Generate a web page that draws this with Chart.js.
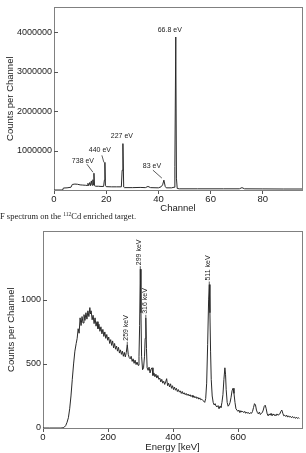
<!DOCTYPE html>
<html><head><meta charset="utf-8">
<script src="https://cdn.jsdelivr.net/npm/chart.js@4.4.0/dist/chart.umd.min.js"></script>
<style>
html,body{margin:0;padding:0;background:#fff;width:306px;height:453px;overflow:hidden;position:relative}
#c1{position:absolute;left:0;top:0;width:306px;height:214px}
#c2{position:absolute;left:0;top:224px;width:306px;height:229px}
#cap{position:absolute;left:0;top:211px;font:8.5px "Liberation Serif",serif;color:#222;white-space:nowrap;line-height:10px}
#cap sup{font-size:5.5px;vertical-align:3px;line-height:0}
</style></head><body>
<canvas id="c1" width="306" height="214"></canvas>
<div id="cap">F spectrum on the <sup>112</sup>Cd enriched target.</div>
<canvas id="c2" width="306" height="229"></canvas>
<script>
// ---------- Top spectrum (channel vs counts) ----------
const channels = [0,3.3,3.6,5,6.5,7,8,9,10,11,
  12,12.7,13,13.3,13.7,14,14.3,14.6,14.9,15.1,
  15.3,15.5,16,17,18,19,19.3,19.5,19.7,20,
  22,24,25.8,26.1,26.4,26.7,27,30,33,35,
  36,37,40,41,41.6,42.1,42.6,43,45,46,
  46.3,46.65,46.9,47.2,48,55,65,71,72,73,
  80,88,95];
const counts = [0,0,50000,55000,70000,140000,150000,145000,130000,125000,
  120000,115000,170000,110000,190000,110000,230000,120000,260000,130000,
  425000,110000,95000,95000,90000,90000,250000,700000,120000,85000,
  80000,80000,80000,500000,1175000,75000,60000,60000,65000,60000,
  90000,60000,55000,80000,130000,250000,90000,55000,55000,70000,
  600000,3875000,300000,40000,30000,30000,30000,30000,60000,30000,
  28000,25000,25000];
const channelTicks = [0,20,40,60,80];
const countTicks = [1000000,2000000,3000000,4000000];
const peakLabelsTop = ['738 eV','440 eV','227 eV','83 eV','66.8 eV'];
const peakChannelsTop = [15.3,19.5,26.4,42.1,46.65];

// ---------- Bottom spectrum (energy vs counts) ----------
const energies = [0,20,40,55,62,66,70,74,78,82,
  86,90,94,98,102,105,108,111,114,117,
  120,123,126,129,132,135,138,141,144,146,
  148,151,154,157,160,163,166,169,172,175,
  178,181,184,187,190,193,196,199,202,205,
  208,211,214,217,220,223,226,229,232,235,
  238,241,244,247,250,253,256,259,262,265,
  268,271,274,277,280,283,286,289,292,295,
  297,299,301,303,306,309,312,314,316,318,
  320,323,326,329,332,335,338,341,344,347,
  350,353,356,359,362,365,368,371,374,377,
  380,383,386,389,392,395,398,401,404,407,
  410,413,416,419,422,425,428,431,434,437,
  440,443,446,449,452,455,458,461,464,467,
  470,473,476,479,482,485,488,491,494,497,
  500,503,506,509,511,513,515,517,520,523,
  526,529,532,535,538,541,544,547,550,553,
  556,559,561,563,566,569,572,575,578,581,
  584,587,590,593,596,599,602,605,608,611,
  614,617,620,623,626,629,632,635,638,641,
  644,647,650,653,656,659,662,665,668,671,
  674,677,680,683,686,689,692,695,698,701,
  704,707,710,713,716,719,722,725,728,731,
  734,737,740,743,746,749,752,755,758,761,
  764,767,770,773,776,779,782,785,788];
const countsE = [0,0,0,0,2,8,20,45,80,150,
  250,380,500,600,660,700,775,740,860,800,
  870,820,885,840,900,850,915,870,940,890,
  915,845,880,815,860,795,830,775,810,755,
  790,735,770,715,750,700,730,685,710,660,
  690,645,680,625,660,615,640,600,630,585,
  610,575,600,560,590,555,590,650,575,550,
  540,560,520,540,505,530,495,515,490,560,
  800,1240,900,560,455,470,560,700,860,620,
  470,450,475,430,460,470,410,430,400,420,
  390,410,380,390,360,380,350,365,340,360,
  385,330,350,320,345,310,330,300,320,295,
  310,285,300,280,290,270,285,265,275,260,
  270,255,265,250,260,245,255,240,250,235,
  245,230,240,225,235,220,225,215,210,200,
  230,350,650,1000,1120,900,600,380,250,200,
  180,190,170,165,175,150,170,160,200,260,
  380,470,420,300,200,170,180,200,240,290,
  310,270,200,150,140,130,140,120,135,125,
  130,120,130,115,125,115,120,110,120,115,
  130,160,190,180,140,120,110,125,105,115,
  120,140,170,178,150,110,95,110,100,115,
  95,110,100,105,95,110,100,105,110,130,
  140,115,95,100,90,100,85,95,85,90,
  80,90,80,85,75,85,75,80,75];
const energyTicks = [0,200,400,600];
const countTicksE = [0,500,1000];
const peakLabelsBottom = ['259 keV','299 keV','316 keV','511 keV'];
const peakEnergiesBottom = [259,299,316,511];

// ---------- styling ----------
const FONT = '"Liberation Sans", Arial, sans-serif';
const TXT = '#222';
const AXIS = '#808080';
// label placement relative to the peak tip (pixels): text offset and leader line
const topLabelLayout = [
  {dx:-11, dy:-12, lead:[-7,-9,-1,-1]},
  {dx:-5,  dy:-12, lead:[-3,-7,-1,0]},
  {dx:-1,  dy:-8,  lead:null},
  {dx:-12, dy:-14, lead:[-11,-10,-2,-2]},
  {dx:-6,  dy:-7,  lead:null}
];

const framePlugin = {
  id:'frame',
  beforeDatasetsDraw(chart){
    const {ctx, chartArea:a} = chart;
    ctx.save();
    ctx.strokeStyle = AXIS; ctx.lineWidth = 1;
    const l = Math.round(a.left)+0.5, t = Math.round(a.top)+0.5;
    ctx.strokeRect(l, t, Math.round(a.right)-Math.round(a.left), Math.round(a.bottom)-Math.round(a.top));
    const ys = chart.scales.y;
    ctx.strokeStyle = '#555';
    ys.ticks.forEach(tk=>{
      if (tk.value === 0) return;
      const py = Math.round(ys.getPixelForValue(tk.value))+0.5;
      ctx.beginPath(); ctx.moveTo(a.left, py); ctx.lineTo(a.left+4, py); ctx.stroke();
    });
    ctx.restore();
  }
};

const topLabelsPlugin = {
  id:'topLabels',
  afterDatasetsDraw(chart){
    const {ctx, scales:{x, y}} = chart;
    ctx.save();
    ctx.font = '7px ' + FONT; ctx.fillStyle = TXT; ctx.strokeStyle = '#333'; ctx.lineWidth = 0.8;
    ctx.textAlign = 'center'; ctx.textBaseline = 'middle';
    peakLabelsTop.forEach((lab, i)=>{
      const c = peakChannelsTop[i];
      const v = counts[channels.indexOf(c)];
      const px = x.getPixelForValue(c), py = y.getPixelForValue(v);
      const st = topLabelLayout[i];
      ctx.fillText(lab, px+st.dx, py+st.dy);
      if (st.lead){
        ctx.beginPath(); ctx.moveTo(px+st.lead[0], py+st.lead[1]); ctx.lineTo(px+st.lead[2], py+st.lead[3]); ctx.stroke();
      }
    });
    ctx.restore();
  }
};

const bottomLabelsPlugin = {
  id:'bottomLabels',
  afterDatasetsDraw(chart){
    const {ctx, scales:{x, y}} = chart;
    ctx.save();
    ctx.font = '7px ' + FONT; ctx.fillStyle = TXT; ctx.strokeStyle = '#333'; ctx.lineWidth = 0.8;
    peakLabelsBottom.forEach((lab, i)=>{
      const e = peakEnergiesBottom[i];
      const v = countsE[energies.indexOf(e)];
      const px = x.getPixelForValue(e), py = y.getPixelForValue(v);
      ctx.save();
      ctx.translate(px, py);
      ctx.rotate(-Math.PI/2);
      ctx.beginPath(); ctx.moveTo(0,0); ctx.lineTo(3,0); ctx.stroke();
      ctx.textAlign = 'left'; ctx.textBaseline = 'middle';
      ctx.fillText(lab, 4, -1);
      ctx.restore();
    });
    ctx.restore();
  }
};

function axisX(title, max, tickVals, height, titleLH){
  return {
    type:'linear', min:0, max:max,
    afterFit(s){ s.height = height; },
    afterBuildTicks(s){ s.ticks = tickVals.map(v=>({value:v})); },
    ticks:{autoSkip:false, padding:0, maxRotation:0, color:TXT, font:{family:FONT, size:9.5}},
    grid:{drawOnChartArea:false, drawTicks:true, tickLength:4, color:'#555'},
    border:{color:AXIS},
    title:{display:true, text:title, color:TXT, font:{family:FONT, size:9.5, lineHeight:titleLH}, padding:{top:0, bottom:0}}
  };
}
function axisY(max, tickVals, width, titlePad){
  return {
    type:'linear', min:0, max:max,
    afterFit(s){ s.width = width; },
    afterBuildTicks(s){ s.ticks = tickVals.map(v=>({value:v})); },
    ticks:{autoSkip:false, padding:2, color:TXT, font:{family:FONT, size:9}, callback:v=>String(v)},
    grid:{drawOnChartArea:false, drawTicks:false},
    border:{color:AXIS},
    title:{display:true, text:'Counts per Channel', color:TXT, font:{family:FONT, size:9.5}, padding:{top:titlePad, bottom:0}}
  };
}

new Chart(document.getElementById('c1'), {
  type:'line',
  data:{datasets:[{
    data: channels.map((c,i)=>({x:c, y:counts[i]})),
    borderColor:'#2a2a2a', borderWidth:1, pointRadius:0, tension:0, fill:false
  }]},
  options:{
    responsive:false, animation:false, events:[],
    layout:{padding:{top:5, right:4, left:0, bottom:0}},
    plugins:{legend:{display:false}, tooltip:{enabled:false}},
    scales:{
      x: axisX('Channel', 95, channelTicks, 24, 1.2),
      y: axisY(4625000, countTicks, 54, 5)
    }
  },
  plugins:[framePlugin, topLabelsPlugin]
});

new Chart(document.getElementById('c2'), {
  type:'line',
  data:{datasets:[{
    data: energies.map((e,i)=>({x:e, y:countsE[i]})),
    borderColor:'#2a2a2a', borderWidth:1, pointRadius:0, tension:0, fill:false
  }]},
  options:{
    responsive:false, animation:false, events:[],
    layout:{padding:{top:6, right:4, left:0, bottom:0}},
    plugins:{legend:{display:false}, tooltip:{enabled:false}},
    scales:{
      x: axisX('Energy [keV]', 796, energyTicks, 25, 1.2),
      y: axisY(1535, countTicksE, 43, 6)
    }
  },
  plugins:[framePlugin, bottomLabelsPlugin]
});
</script>
</body></html>
